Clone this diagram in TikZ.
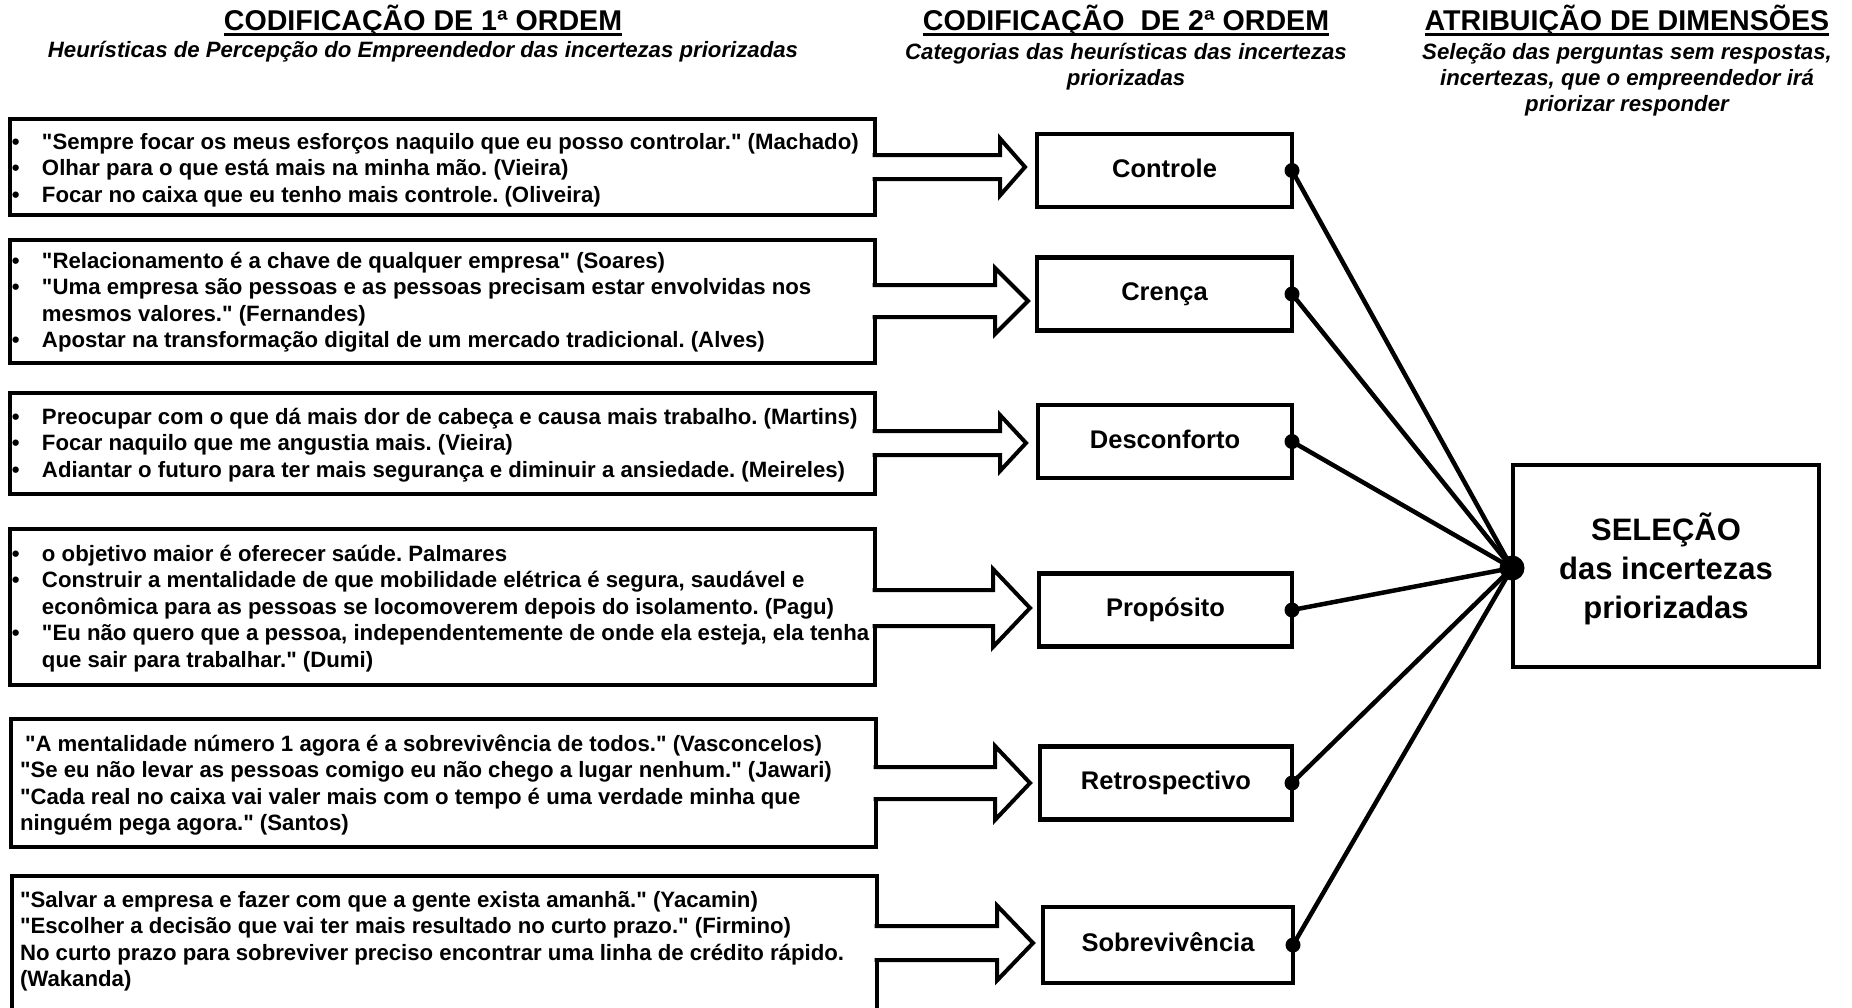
\documentclass[tikz,border=0pt]{standalone}
\usepackage{fontspec}
\setmainfont{Liberation Sans}[Ligatures=TeXOff]
\usetikzlibrary{calc}
\frenchspacing

\newcommand\quotefont{\fontsize{22.2}{26.5}\selectfont\bfseries}
\newcommand\catfont{\fontsize{25.5}{30}\selectfont\bfseries}
\newcommand\headfont{\fontsize{28.6}{32}\selectfont\bfseries}
\newcommand\subheadfont{\fontsize{22.2}{26}\selectfont\bfseries\itshape}
\newcommand\selfont{\fontsize{31}{39}\selectfont\bfseries}
\newcommand\bul{\makebox[30pt][l]{•}}
\newcommand\cont{\hspace*{30pt}}

% hollow block arrow leaving the right side of a quote box
% #1 box, #2 centre y, #3 half shaft, #4 half head, #5 head base x, #6 tip x
\newcommand\hollowarrow[6]{%
  \draw[arrowline] ($(#1.east |- 0,{#2-#3})+(-2.5,0)$) -- (#5,{#2-#3}) -- (#5,{#2-#4})
    -- (#6,#2) -- (#5,{#2+#4}) -- (#5,{#2+#3}) -- ($(#1.east |- 0,{#2+#3})+(-2.5,0)$);
}

\begin{document}
\begin{tikzpicture}[x=1pt,y=-1pt,
  srcbox/.style={draw, line width=4.5, inner sep=0, outer sep=0},
  quote/.style={anchor=base west, inner sep=0, outer sep=0, font=\quotefont},
  catbox/.style={draw, line width=4.5, inner sep=0, outer sep=0, font=\catfont,
    text height=18.5, text depth=5, minimum height=73},
  head/.style={anchor=base, inner sep=0, outer sep=0, font=\headfont},
  subhead/.style={anchor=base, inner sep=0, outer sep=0, font=\subheadfont},
  arrowline/.style={line width=4, fill=white, line join=miter},
  conn/.style={line width=4.5, line cap=round},
  dot/.style={fill, circle, inner sep=0, outer sep=0, minimum size=15},
]
\useasboundingbox (0,0) rectangle (1852,1007);
\clip (0,0) rectangle (1852,1007);

% column headings
\node[head] (h1) at (423,30) {CODIFICAÇÃO DE 1ª ORDEM};
\node[head] (h2) at (1126,30) {CODIFICAÇÃO\ \ DE 2ª ORDEM};
\node[head] (h3) at (1627,30) {ATRIBUIÇÃO DE DIMENSÕES};
\foreach \h in {h1,h2,h3}
  \draw[line width=2.5] ([yshift=-4.5pt]\h.base west) -- ([yshift=-4.5pt]\h.base east);

\node[subhead] (s1) at (423,57) {Heurísticas de Percepção do Empreendedor das incertezas priorizadas};
\node[subhead] (s2) at (1126,59) {\begin{tabular}[t]{@{}c@{}}Categorias das heurísticas das incertezas\\priorizadas\end{tabular}};
\node[subhead] (s3) at (1627,59) {\begin{tabular}[t]{@{}c@{}}Seleção das perguntas sem respostas,\\incertezas, que o empreendedor irá\\priorizar responder\end{tabular}};

% quote boxes (first-order coding)
\node[srcbox, minimum width=865, minimum height=96]  (b1) at (442.5,167) {};
\node[srcbox, minimum width=865, minimum height=123] (b2) at (442.5,301.5) {};
\node[srcbox, minimum width=865, minimum height=101] (b3) at (442.5,443.5) {};
\node[srcbox, minimum width=865, minimum height=156] (b4) at (442.5,607) {};
\node[srcbox, minimum width=865, minimum height=128] (b5) at (443.5,783) {};
\node[srcbox, minimum width=865, minimum height=190] (b6) at (444.5,971) {};

\node[quote] (t1) at (12,149) {\begin{tabular}[t]{@{}l@{}}
\bul "Sempre focar os meus esforços naquilo que eu posso controlar." (Machado)\\
\bul Olhar para o que está mais na minha mão. (Vieira)\\
\bul Focar no caixa que eu tenho mais controle. (Oliveira)
\end{tabular}};

\node[quote] (t2) at (12,268) {\begin{tabular}[t]{@{}l@{}}
\bul "Relacionamento é a chave de qualquer empresa" (Soares)\\
\bul "Uma empresa são pessoas e as pessoas precisam estar envolvidas nos\\
\cont mesmos valores." (Fernandes)\\
\bul Apostar na transformação digital de um mercado tradicional. (Alves)
\end{tabular}};

\node[quote] (t3) at (12,424) {\begin{tabular}[t]{@{}l@{}}
\bul Preocupar com o que dá mais dor de cabeça e causa mais trabalho. (Martins)\\
\bul Focar naquilo que me angustia mais. (Vieira)\\
\bul Adiantar o futuro para ter mais segurança e diminuir a ansiedade. (Meireles)
\end{tabular}};

\node[quote] (t4) at (12,561) {\begin{tabular}[t]{@{}l@{}}
\bul o objetivo maior é oferecer saúde. Palmares\\
\bul Construir a mentalidade de que mobilidade elétrica é segura, saudável e\\
\cont econômica para as pessoas se locomoverem depois do isolamento. (Pagu)\\
\bul "Eu não quero que a pessoa, independentemente de onde ela esteja, ela tenha\\
\cont que sair para trabalhar." (Dumi)
\end{tabular}};

\node[quote] (t5) at (20,751) {\begin{tabular}[t]{@{}l@{}}
\hspace*{5pt}"A mentalidade número 1 agora é a sobrevivência de todos." (Vasconcelos)\\
"Se eu não levar as pessoas comigo eu não chego a lugar nenhum." (Jawari)\\
"Cada real no caixa vai valer mais com o tempo é uma verdade minha que\\
ninguém pega agora." (Santos)
\end{tabular}};

\node[quote] (t6) at (20,907) {\begin{tabular}[t]{@{}l@{}}
"Salvar a empresa e fazer com que a gente exista amanhã." (Yacamin)\\
"Escolher a decisão que vai ter mais resultado no curto prazo." (Firmino)\\
No curto prazo para sobreviver preciso encontrar uma linha de crédito rápido.\\
(Wakanda)
\end{tabular}};

% hollow arrows to the categories
\hollowarrow{b1}{167}{12}{28.5}{1000}{1025}
\hollowarrow{b2}{301}{16}{33}{995}{1028}
\hollowarrow{b3}{443}{12}{28}{1000}{1026}
\hollowarrow{b4}{608}{18}{39}{993}{1030}
\hollowarrow{b5}{783}{16}{37}{995}{1030}
\hollowarrow{b6}{943}{17}{37.5}{997}{1033}

% category boxes (second-order coding)
\node[catbox, minimum width=255] (c1) at (1164.5,170.5) {Controle};
\node[catbox, minimum width=255] (c2) at (1164.5,294) {Crença};
\node[catbox, minimum width=254] (c3) at (1165,441.5) {Desconforto};
\node[catbox, minimum width=253] (c4) at (1165.5,610) {Propósito};
\node[catbox, minimum width=252] (c5) at (1166,783) {Retrospectivo};
\node[catbox, minimum width=250, minimum height=76] (c6) at (1168,945) {Sobrevivência};

% selection box
\node[draw, line width=4.5, inner sep=0, outer sep=0, minimum width=306, minimum height=202]
  (sel) at (1666,566) {};
\node[font=\selfont, inner sep=0] (seltext) at ($(sel.center)+(0,6)$)
  {\begin{tabular}{@{}c@{}}SELEÇÃO\\das incertezas\\priorizadas\end{tabular}};

\node[dot, minimum size=25] (hub) at ($(sel.west)+(-1,2)$) {};

\foreach \c in {c1,c2,c3,c4,c5,c6} {
  \draw[conn] (\c.east) -- (hub.center);
  \node[dot] (d\c) at (\c.east) {};
}
\end{tikzpicture}
\end{document}
